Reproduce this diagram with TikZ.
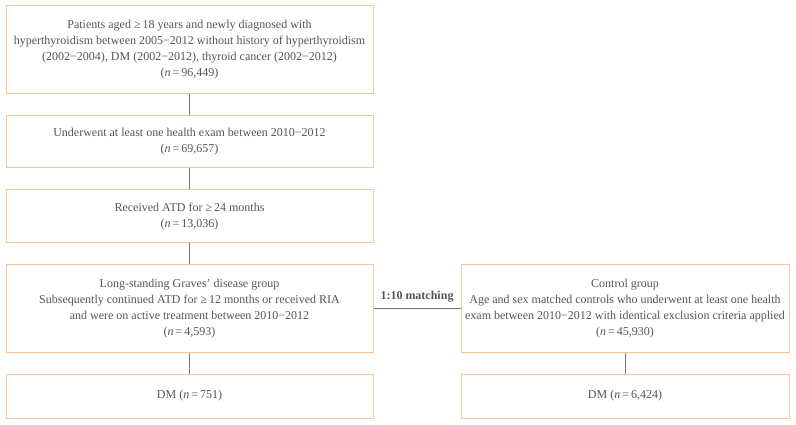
\documentclass[tikz,border=0pt]{standalone}
\usepackage{fontspec}
\setmainfont{Liberation Serif}
\definecolor{boxc}{HTML}{F9C597}
\definecolor{txtc}{HTML}{555555}
\definecolor{linec}{HTML}{777777}
\newcommand{\nn}[1]{(\textit{n}\,=\,#1)}
\begin{document}
\begin{tikzpicture}[x=1pt,y=1pt,
  flowbox/.style={draw=boxc,line width=1pt,fill=white,inner sep=0pt,align=center,
    font=\fontsize{12}{16}\selectfont,text=txtc},
  conn/.style={draw=linec,line width=0.8pt}]
\useasboundingbox (0,0) rectangle (796,-425);
\node[flowbox,minimum width=367pt,minimum height=88pt] (b1) at (189.5,-50)
  {Patients aged ≥\,18 years and newly diagnosed with\\hyperthyroidism between 2005−2012 without history of hyperthyroidism\\(2002−2004), DM (2002−2012), thyroid cancer (2002−2012)\\\nn{96,449}};
\node[flowbox,minimum width=367pt,minimum height=52pt] (b2) at (189.5,-142)
  {Underwent at least one health exam between 2010−2012\\\nn{69,657}};
\node[flowbox,minimum width=367pt,minimum height=53pt] (b3) at (189.5,-216.5)
  {Received ATD for ≥\,24 months\\\nn{13,036}};
\node[flowbox,minimum width=367pt,minimum height=87.5pt] (b4) at (189.5,-308.25)
  {Long-standing Graves’ disease group\\Subsequently continued ATD for ≥\,12 months or received RIA\\and were on active treatment between 2010−2012\\\nn{4,593}};
\node[flowbox,minimum width=367pt,minimum height=44pt] (b5) at (189.5,-396)
  {DM \nn{751}};
\node[flowbox,minimum width=328pt,minimum height=87.5pt] (c1) at (625,-308.25)
  {Control group\\Age and sex matched controls who underwent at least one health\\exam between 2010−2012 with identical exclusion criteria applied\\\nn{45,930}};
\node[flowbox,minimum width=328pt,minimum height=44pt] (c2) at (625,-396)
  {DM \nn{6,424}};
\draw[conn] (b1.south) -- (b2.north);
\draw[conn] (b2.south) -- (b3.north);
\draw[conn] (b3.south) -- (b4.north);
\draw[conn] (b4.south) -- (b5.north);
\draw[conn] (c1.south) -- (c2.north);
\draw[conn] (b4.east) -- node[above=2pt,font=\fontsize{12}{14}\selectfont\bfseries,text=txtc] (lbl) {1:10 matching} (c1.west);
\end{tikzpicture}
\end{document}
